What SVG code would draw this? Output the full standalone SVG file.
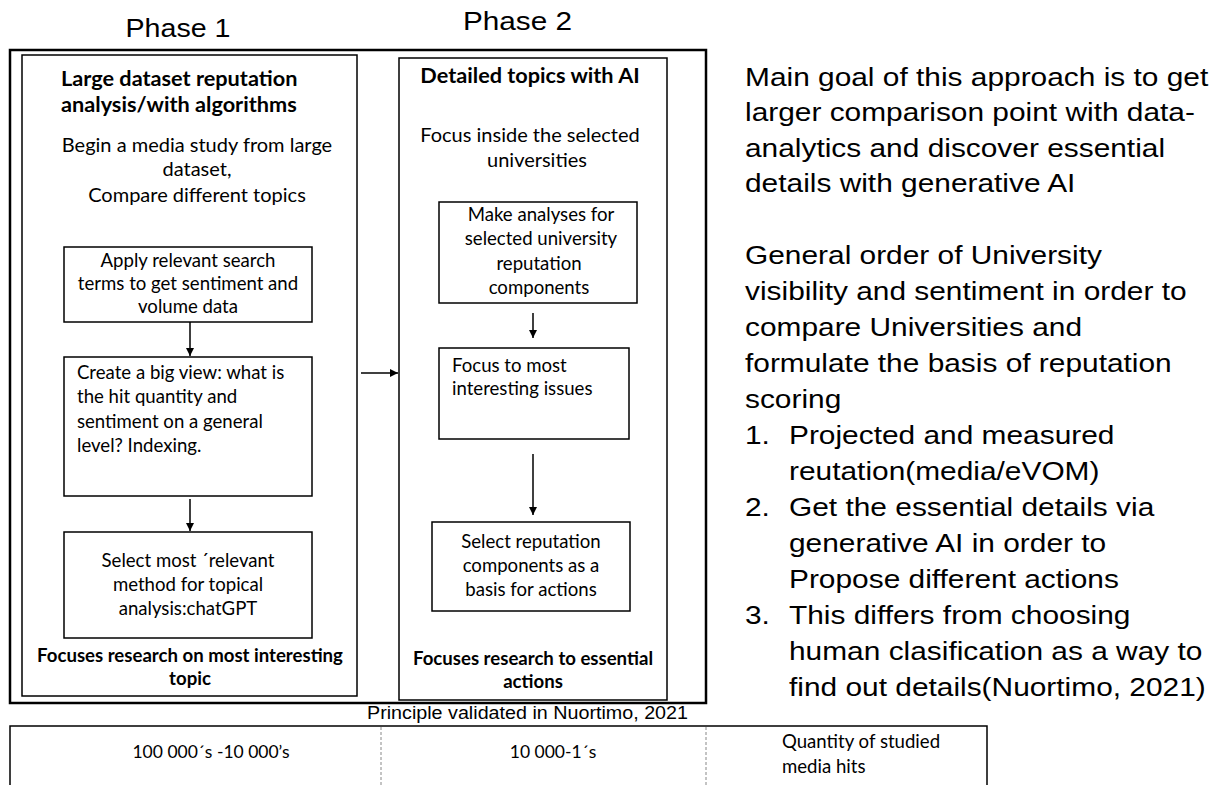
<svg xmlns="http://www.w3.org/2000/svg" width="1218" height="785" viewBox="0 0 1218 785">
<defs>
<style>
.bx{fill:#fff;stroke:#000;stroke-width:1.5}
.outer{fill:none;stroke:#000;stroke-width:2.5}
.cal{font-family:Lato,"Open Sans",sans-serif;font-size:18.6px;fill:#000}
.big{font-size:20px}
.ttl{font-size:21.7px}
.b{font-weight:bold}
.c{text-anchor:middle}
.ar{font-family:"Liberation Sans",Arial,sans-serif;fill:#000}
.ph{font-size:25px;text-anchor:middle}
.rt{font-size:26px}
.con{stroke:#000;stroke-width:1.5;fill:none}
.dash{stroke:#888;stroke-width:1;stroke-dasharray:3 2;fill:none}
.sm{font-size:17.5px}
</style>
<marker id="ah" viewBox="0 0 10 10" refX="10" refY="5" markerWidth="5.5" markerHeight="5.5" orient="auto" markerUnits="strokeWidth">
<path d="M0,0 L10,5 L0,10 z" fill="#000"/>
</marker>
</defs>
<rect width="1218" height="785" fill="#fff"/>

<g id="phase-labels">
<text class="ar ph" x="178" y="37" textLength="105" lengthAdjust="spacingAndGlyphs">Phase 1</text>
<text class="ar ph" x="517.5" y="30" textLength="109" lengthAdjust="spacingAndGlyphs">Phase 2</text>
</g>

<g id="outer-frame">
<rect class="outer" x="10" y="50" width="696" height="653"/>
</g>

<g id="phase1">
<rect class="bx" x="22" y="55" width="335" height="641"/>
<text class="cal b ttl" x="61" y="86">Large dataset reputation</text>
<text class="cal b ttl" x="61" y="112">analysis/with algorithms</text>
<text class="cal big c" x="197" y="152">Begin a media study from large</text>
<text class="cal big c" x="197" y="176">dataset,</text>
<text class="cal big c" x="197" y="202">Compare different topics</text>
<text class="cal b c" x="190" y="662">Focuses research on most interesting</text>
<text class="cal b c" x="190" y="685">topic</text>
</g>

<g id="box-apply">
<rect class="bx" x="64" y="247" width="248" height="75"/>
<text class="cal c" x="188" y="267">Apply relevant search</text>
<text class="cal c" x="188" y="290">terms to get sentiment and</text>
<text class="cal c" x="188" y="313">volume data</text>
</g>

<g id="box-bigview">
<rect class="bx" x="64" y="357" width="248" height="139"/>
<text class="cal" x="77" y="379">Create a big view: what is</text>
<text class="cal" x="77" y="403">the hit quantity and</text>
<text class="cal" x="77" y="428">sentiment on a general</text>
<text class="cal" x="77" y="452">level? Indexing.</text>
</g>

<g id="box-select-method">
<rect class="bx" x="64" y="532" width="248" height="106"/>
<text class="cal c" x="188" y="567">Select most ´relevant</text>
<text class="cal c" x="188" y="591">method for topical</text>
<text class="cal c" x="188" y="615">analysis:chatGPT</text>
</g>

<g id="phase2">
<rect class="bx" x="399" y="58" width="268" height="642"/>
<text class="cal b ttl c" x="530" y="83">Detailed topics with AI</text>
<text class="cal big c" x="530" y="142">Focus inside the selected</text>
<text class="cal big c" x="537" y="167">universities</text>
<text class="cal b c" x="533" y="665">Focuses research to essential</text>
<text class="cal b c" x="533" y="688">actions</text>
</g>

<g id="box-analyses">
<rect class="bx" x="439" y="202" width="198" height="101"/>
<text class="cal c" x="541" y="221">Make analyses for</text>
<text class="cal c" x="541" y="245">selected university</text>
<text class="cal c" x="539" y="270">reputation</text>
<text class="cal c" x="539" y="294">components</text>
</g>

<g id="box-focus">
<rect class="bx" x="439" y="348" width="190" height="91"/>
<text class="cal" x="452" y="372">Focus to most</text>
<text class="cal" x="452" y="395">interesting issues</text>
</g>

<g id="box-select-rep">
<rect class="bx" x="432" y="522" width="198" height="89"/>
<text class="cal c" x="531" y="548">Select reputation</text>
<text class="cal c" x="531" y="572">components as a</text>
<text class="cal c" x="531" y="596">basis for actions</text>
</g>

<g id="connectors">
<line class="con" x1="190" y1="322" x2="190" y2="356" marker-end="url(#ah)"/>
<line class="con" x1="190" y1="499" x2="190" y2="531" marker-end="url(#ah)"/>
<line class="con" x1="533" y1="313" x2="533" y2="338" marker-end="url(#ah)"/>
<line class="con" x1="533" y1="454" x2="533" y2="515" marker-end="url(#ah)"/>
<line class="con" x1="361" y1="373" x2="398" y2="373" marker-end="url(#ah)"/>
</g>

<g id="principle">
<text class="ar" x="367" y="719" font-size="17.5" textLength="321" lengthAdjust="spacingAndGlyphs">Principle validated in Nuortimo, 2021</text>
</g>

<g id="quantity-table">
<path class="con" d="M10,785 V726 H987 V785"/>
<line class="dash" x1="381" y1="727" x2="381" y2="785"/>
<line class="dash" x1="706" y1="727" x2="706" y2="785"/>
<text class="cal sm c" x="211" y="758">100 000´s -10 000’s</text>
<text class="cal sm c" x="553" y="758">10 000-1´s</text>
<text class="cal" x="782" y="748" font-size="18.2">Quantity of studied</text>
<text class="cal" x="782" y="773" font-size="18.2">media hits</text>
</g>

<g id="side-text" transform="translate(745,0) scale(1.149,1) translate(-745,0)">
<text class="ar rt" x="745" y="86">Main goal of this approach is to get</text>
<text class="ar rt" x="745" y="121.5">larger comparison point with data-</text>
<text class="ar rt" x="745" y="157">analytics and discover essential</text>
<text class="ar rt" x="745" y="192.5">details with generative AI</text>
<text class="ar rt" x="745" y="264">General order of University</text>
<text class="ar rt" x="745" y="300">visibility and sentiment in order to</text>
<text class="ar rt" x="745" y="336">compare Universities and</text>
<text class="ar rt" x="745" y="372">formulate the basis of reputation</text>
<text class="ar rt" x="745" y="408">scoring</text>
<text class="ar rt" x="745" y="444">1.</text>
<text class="ar rt" x="783.3" y="444">Projected and measured</text>
<text class="ar rt" x="783.3" y="480">reutation(media/eVOM)</text>
<text class="ar rt" x="745" y="516">2.</text>
<text class="ar rt" x="783.3" y="516">Get the essential details via</text>
<text class="ar rt" x="783.3" y="552">generative AI in order to</text>
<text class="ar rt" x="783.3" y="588">Propose different actions</text>
<text class="ar rt" x="745" y="624">3.</text>
<text class="ar rt" x="783.3" y="624">This differs from choosing</text>
<text class="ar rt" x="783.3" y="660">human clasification as a way to</text>
<text class="ar rt" x="783.3" y="696">find out details(Nuortimo, 2021)</text>
</g>
</svg>
